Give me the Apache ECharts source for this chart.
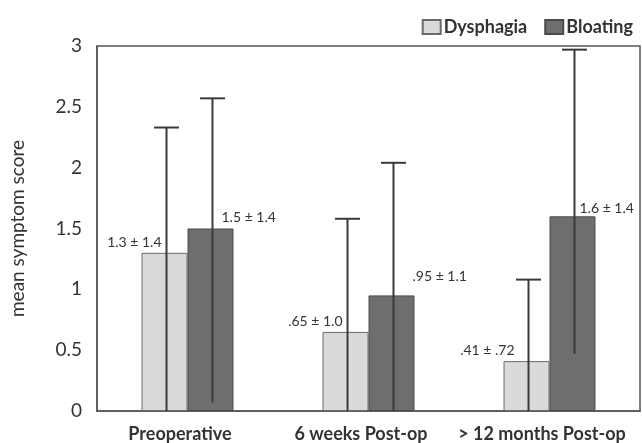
<!DOCTYPE html>
<html>
<head>
<meta charset="utf-8">
<script src="https://cdn.jsdelivr.net/npm/echarts@6/dist/echarts.min.js"></script>
<style>
  html, body { margin: 0; padding: 0; background: #fff; }
  #chart { width: 642px; height: 443px; }
</style>
</head>
<body>
<div id="chart"></div>
<script>
// Mean symptom scores (± SD) for dysphagia and bloating over follow-up
const categories = ['Preoperative', '6 weeks Post-op', '> 12 months Post-op'];
const dysphagiaMean = [1.3, 0.65, 0.41];
const dysphagiaSD = [1.4, 1.0, 0.72];
const bloatingMean = [1.5, 0.95, 1.6];
const bloatingSD = [1.4, 1.1, 1.4];
// Whisker extents as plotted
const dysphagiaWhiskerLow = [0, 0, 0];
const dysphagiaWhiskerHigh = [2.33, 1.58, 1.08];
const bloatingWhiskerLow = [0.07, 0, 0.47];
const bloatingWhiskerHigh = [2.57, 2.04, 2.97];
const yTicks = [0, 0.5, 1, 1.5, 2, 2.5, 3];

// Label placement relative to each bar's top-left corner
const dysphagiaLabelPos = [[20, -10], [20, -10], [11, -11]];
const bloatingLabelPos = [[34, -11], [44, -19], [30, -8]];

const FONT = 'Lato';
const INK = '#333';
const BAR_WIDTH_FRAC = 0.254;

function fmt(n) {
  let s = n < 1 ? String(n) : (Number.isInteger(n * 10) ? n.toFixed(1) : String(n));
  if (n > 0 && n < 1) s = s.replace(/^0/, '');
  return s;
}

function barData(means, sds, positions, align) {
  return means.map((m, i) => ({
    value: m,
    label: {
      show: true,
      position: positions[i],
      align: align,
      verticalAlign: 'middle',
      formatter: fmt(m) + ' ± ' + fmt(sds[i])
    }
  }));
}

function whiskerData(lows, highs) {
  return lows.map((lo, i) => [i, lo, highs[i]]);
}

function whiskerRenderer(side) {
  return function (params, api) {
    const cat = api.value(0);
    const lo = api.coord([cat, api.value(1)]);
    const hi = api.coord([cat, api.value(2)]);
    const band = api.size([1, 0])[0];
    const x = lo[0] + side * band * BAR_WIDTH_FRAC / 2 + 2;
    const cap = 12.5;
    const style = { stroke: '#3a3a3a', lineWidth: 2 };
    return {
      type: 'group',
      children: [
        { type: 'line', shape: { x1: x, y1: lo[1], x2: x, y2: hi[1] }, style },
        { type: 'line', shape: { x1: x - cap, y1: hi[1], x2: x + cap, y2: hi[1] }, style }
      ]
    };
  };
}

const chart = echarts.init(document.getElementById('chart'), null, { renderer: 'canvas' });

chart.setOption({
  animation: false,
  textStyle: { fontFamily: FONT, color: INK },
  legend: {
    right: 4,
    top: 13,
    icon: 'rect',
    itemWidth: 18,
    itemHeight: 14,
    itemGap: 17,
    textStyle: { fontFamily: FONT, fontSize: 18, fontWeight: 'bold', color: INK, padding: [0, 0, 0, -2] },
    data: ['Dysphagia', 'Bloating']
  },
  grid: {
    left: 97,
    right: 2,
    top: 46,
    bottom: 32,
    show: true,
    borderColor: '#555',
    borderWidth: 1.5,
    backgroundColor: 'transparent'
  },
  xAxis: {
    type: 'category',
    data: categories,
    axisLine: { show: true, lineStyle: { color: '#555', width: 1.5 } },
    axisTick: { show: false },
    axisLabel: {
      fontFamily: FONT, fontSize: 18, fontWeight: 'bold', color: INK,
      margin: 14, interval: 0, padding: [0, 15, 0, 0]
    }
  },
  yAxis: {
    type: 'value',
    min: 0,
    max: 3,
    interval: 0.5,
    name: 'mean symptom score',
    nameLocation: 'middle',
    nameGap: 70,
    nameTextStyle: { fontFamily: FONT, fontSize: 19, color: INK },
    axisLine: { show: true, lineStyle: { color: '#555', width: 1.5 } },
    axisTick: { show: false },
    splitLine: { show: false },
    axisLabel: {
      fontFamily: FONT,
      fontSize: 19,
      color: INK,
      margin: 15,
      formatter: v => (yTicks.includes(v) ? String(v) : '')
    }
  },
  series: [
    {
      name: 'Dysphagia',
      type: 'bar',
      barWidth: (BAR_WIDTH_FRAC * 100) + '%',
      barGap: '0%',
      itemStyle: { color: '#dadada', borderColor: '#6a6a6a', borderWidth: 1 },
      label: { fontFamily: FONT, fontSize: 14, color: INK },
      data: barData(dysphagiaMean, dysphagiaSD, dysphagiaLabelPos, 'right')
    },
    {
      name: 'Bloating',
      type: 'bar',
      barWidth: (BAR_WIDTH_FRAC * 100) + '%',
      barGap: '0%',
      itemStyle: { color: '#6e6e6e', borderColor: '#4a4a4a', borderWidth: 1 },
      label: { fontFamily: FONT, fontSize: 14, color: INK },
      data: barData(bloatingMean, bloatingSD, bloatingLabelPos, 'left')
    },
    {
      name: 'Dysphagia SD',
      type: 'custom',
      renderItem: whiskerRenderer(-1),
      encode: { x: 0, y: [1, 2] },
      z: 5,
      silent: true,
      data: whiskerData(dysphagiaWhiskerLow, dysphagiaWhiskerHigh)
    },
    {
      name: 'Bloating SD',
      type: 'custom',
      renderItem: whiskerRenderer(1),
      encode: { x: 0, y: [1, 2] },
      z: 5,
      silent: true,
      data: whiskerData(bloatingWhiskerLow, bloatingWhiskerHigh)
    }
  ]
});
</script>
</body>
</html>
